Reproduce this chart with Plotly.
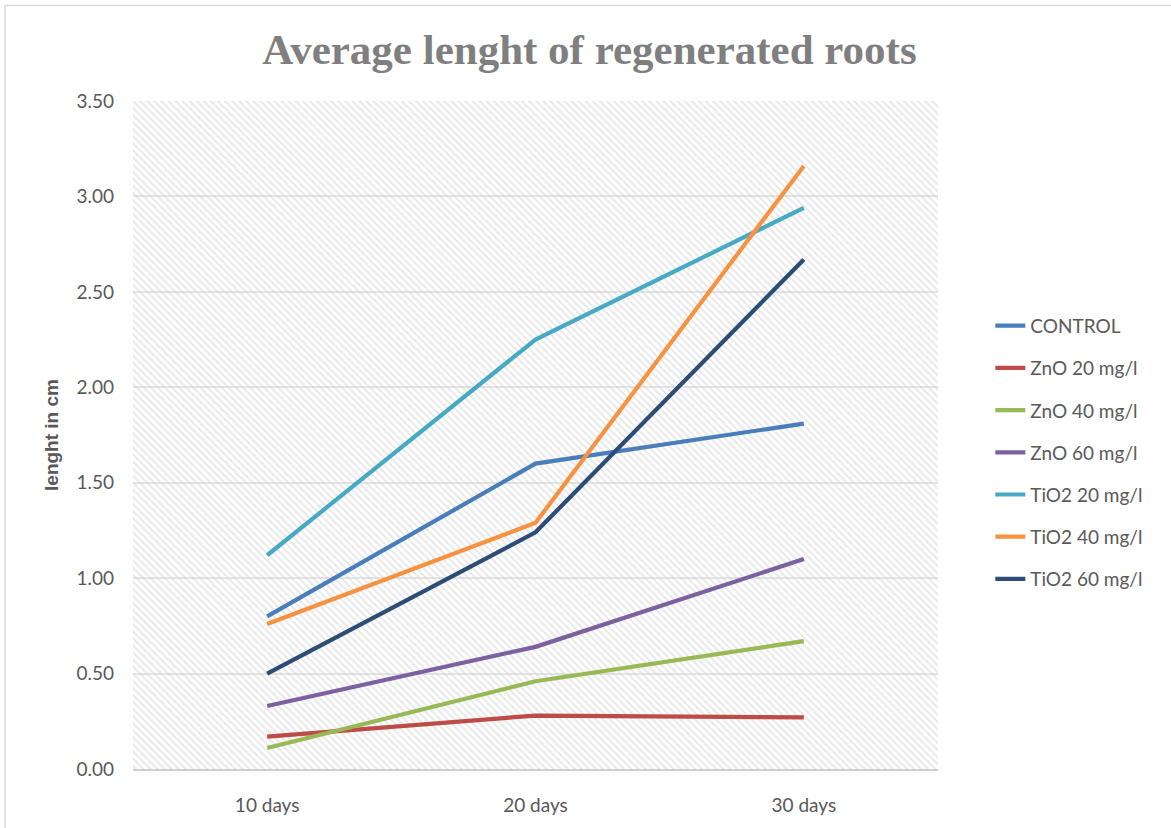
import plotly.graph_objects as go

# Sampling days
categories = ["10 days", "20 days", "30 days"]

# Mean regenerated root length (cm) per treatment
control = [0.80, 1.60, 1.81]
zno_20 = [0.17, 0.28, 0.27]
zno_40 = [0.11, 0.46, 0.67]
zno_60 = [0.33, 0.64, 1.10]
tio2_20 = [1.12, 2.25, 2.94]
tio2_40 = [0.76, 1.29, 3.16]
tio2_60 = [0.50, 1.24, 2.67]

series_names = ["CONTROL", "ZnO 20 mg/l", "ZnO 40 mg/l", "ZnO 60 mg/l",
                "TiO2 20 mg/l", "TiO2 40 mg/l", "TiO2 60 mg/l"]
series_values = [control, zno_20, zno_40, zno_60, tio2_20, tio2_40, tio2_60]
series_colors = ["#4a7ebb", "#be4b48", "#98b954", "#7d60a0",
                 "#46aac5", "#f69240", "#2c4d75"]

y_max = 3.5
tick_values = [0, 0.5, 1.0, 1.5, 2.0, 2.5, 3.0, 3.5]

fig = go.Figure()

# Diagonal hatch filling the plotting area (transparent background so gridlines show)
fig.add_trace(go.Bar(
    x=[categories[1]], y=[y_max], width=[3],
    marker=dict(color="rgba(0,0,0,0)", line=dict(width=0),
                pattern=dict(shape="\\", fgcolor="#d2d2d2",
                             bgcolor="rgba(0,0,0,0)", size=5, solidity=0.4)),
    showlegend=False, hoverinfo="skip",
))

for i, (name, vals, col) in enumerate(zip(series_names, series_values, series_colors)):
    fig.add_trace(go.Scatter(
        x=categories, y=vals, name=name, mode="lines",
        line=dict(color=col, width=4.2),
        legendgroup=f"g{i}",
    ))

fig.update_layout(
    width=1171, height=828,
    margin=dict(l=133, r=233, t=101, b=56),
    paper_bgcolor="white", plot_bgcolor="white",
    title=dict(text="<b>Average lenght of regenerated roots</b>",
               font=dict(family="Liberation Serif", size=43, color="#7f7f7f"),
               x=(589.5 / 1171), xanchor="center", y=1 - 49 / 828, yanchor="middle"),
    xaxis=dict(
        type="category", categoryorder="array", categoryarray=categories,
        range=[-0.5, 2.5],
        showgrid=False, showline=True, linecolor="#d0d0d0", linewidth=2,
        ticks="", ticklabelstandoff=18,
        tickfont=dict(family="Lato", size=19, color="#595959"),
    ),
    yaxis=dict(
        range=[0, y_max], tickvals=tick_values, tickformat=".2f",
        showgrid=True, gridcolor="#e4e4e4", gridwidth=1.5,
        zeroline=False, showline=False, ticks="",
        ticklabelstandoff=18,
        tickfont=dict(family="Lato", size=19, color="#595959"),
        title=dict(text="<b>lenght in cm</b>", standoff=12,
                   font=dict(family="Liberation Sans", size=19, color="#595959")),
    ),
    legend=dict(
        x=1.065, xanchor="left", y=0.474, yanchor="middle",
        font=dict(family="Lato", size=19, color="#595959"),
        tracegroupgap=14.5, bgcolor="rgba(0,0,0,0)",
    ),
    showlegend=True,
    shapes=[dict(type="rect", xref="paper", yref="paper",
                 x0=-0.159, x1=1.3, y0=-0.09, y1=1.143,
                 line=dict(color="#d9d9d9", width=1.5), layer="below")],
)

fig.write_html("out.html", config={"displayModeBar": False})
